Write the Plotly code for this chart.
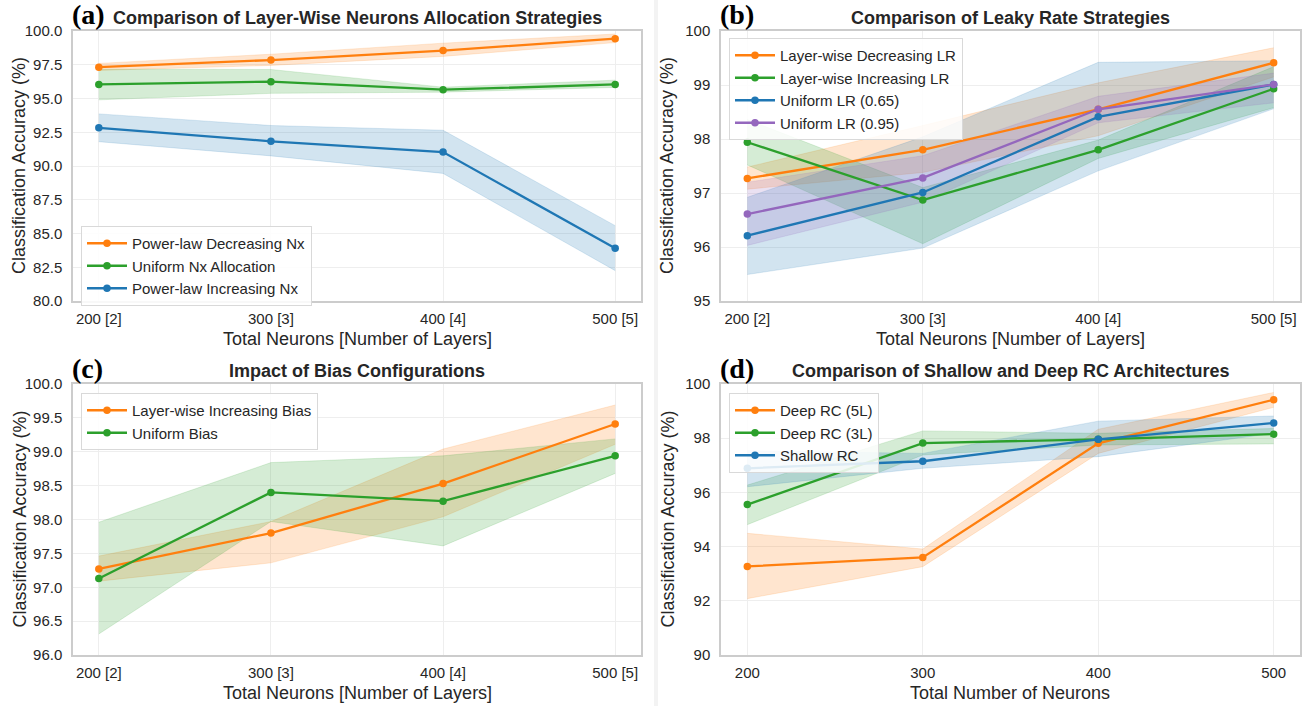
import plotly.graph_objects as go

# ---------------- data ----------------
cat_labels = ["200 [2]", "300 [3]", "400 [4]", "500 [5]"]
neurons = [200, 300, 400, 500]

# (a) Layer-wise neuron allocation
a_names = ["Power-law Decreasing Nx", "Uniform Nx Allocation", "Power-law Increasing Nx"]
a_mean = [[97.32, 97.85, 98.55, 99.43],
          [96.04, 96.25, 95.65, 96.04],
          [92.83, 91.83, 91.03, 83.90]]
a_low = [[97.08, 97.45, 98.12, 99.14],
         [94.90, 95.38, 95.47, 95.82],
         [91.80, 90.75, 89.45, 82.25]]
a_high = [[97.60, 98.28, 99.10, 99.78],
          [97.17, 97.15, 95.84, 96.36],
          [93.86, 93.00, 92.65, 85.58]]

# (b) Leaky rate strategies
b_names = ["Layer-wise Decreasing LR", "Layer-wise Increasing LR", "Uniform LR (0.65)", "Uniform LR (0.95)"]
b_mean = [[97.27, 97.80, 98.55, 99.41],
          [97.94, 96.87, 97.80, 98.93],
          [96.21, 97.01, 98.41, 99.01],
          [96.61, 97.28, 98.55, 99.01]]
b_low = [[97.07, 97.38, 98.06, 99.15],
         [97.52, 96.06, 97.64, 98.58],
         [95.49, 95.98, 97.41, 98.56],
         [96.03, 96.83, 98.30, 98.67]]
b_high = [[97.48, 98.25, 99.04, 99.69],
          [98.36, 97.10, 97.98, 99.34],
          [96.92, 98.04, 99.42, 99.45],
          [97.20, 97.69, 98.79, 99.22]]

# (c) Bias configurations
c_names = ["Layer-wise Increasing Bias", "Uniform Bias"]
c_mean = [[97.27, 97.80, 98.53, 99.41],
          [97.13, 98.40, 98.27, 98.94]]
c_low = [[97.09, 97.36, 98.04, 99.11],
         [96.31, 97.97, 97.61, 98.68]]
c_high = [[97.46, 97.97, 99.04, 99.69],
          [97.96, 98.84, 98.94, 99.19]]

# (d) Shallow vs deep RC
d_names = ["Deep RC (5L)", "Deep RC (3L)", "Shallow RC"]
d_mean = [[93.27, 93.60, 97.81, 99.42],
          [95.55, 97.82, 97.96, 98.15],
          [96.89, 97.15, 97.96, 98.56]]
d_low = [[92.08, 93.26, 97.44, 99.14],
         [94.81, 97.38, 97.75, 97.79],
         [96.21, 96.89, 97.32, 98.18]]
d_high = [[94.49, 93.91, 98.33, 99.69],
          [96.27, 98.27, 98.18, 98.36],
          [97.54, 97.44, 98.63, 98.82]]

# ---------------- style ----------------
W, H = 1312, 706
FONT = "Liberation Sans, Arial, sans-serif"
colors_a = ["#ff7f0e", "#2ca02c", "#1f77b4"]
colors_b = ["#ff7f0e", "#2ca02c", "#1f77b4", "#9467bd"]
colors_c = ["#ff7f0e", "#2ca02c"]
colors_d = ["#ff7f0e", "#2ca02c", "#1f77b4"]


def rgba(hexc, a):
    h = hexc.lstrip("#")
    return "rgba(%d,%d,%d,%s)" % (int(h[0:2], 16), int(h[2:4], 16), int(h[4:6], 16), a)


def px_x(p):
    return p / W


def px_y(p):
    return 1 - p / H


# axes pixel boxes: (left, right, top, bottom)
boxes = {
    1: (73, 641, 31, 301),
    2: (721, 1300, 31, 301),
    3: (73, 641, 384, 655),
    4: (721, 1300, 384, 655),
}

fig = go.Figure()


def add_panel(idx, xs, names, means, lows, highs, cols, legend_name):
    xa = "x" if idx == 1 else "x%d" % idx
    ya = "y" if idx == 1 else "y%d" % idx
    for i in range(len(names)):
        fig.add_trace(go.Scatter(x=xs, y=highs[i], mode="lines", line=dict(width=0.6, color=rgba(cols[i], 0.25)),
                                 xaxis=xa, yaxis=ya, showlegend=False, hoverinfo="skip"))
        fig.add_trace(go.Scatter(x=xs, y=lows[i], mode="lines", line=dict(width=0.6, color=rgba(cols[i], 0.25)),
                                 fill="tonexty", fillcolor=rgba(cols[i], 0.2),
                                 xaxis=xa, yaxis=ya, showlegend=False, hoverinfo="skip"))
    for i in range(len(names)):
        fig.add_trace(go.Scatter(x=xs, y=means[i], mode="lines+markers", name=names[i],
                                 line=dict(color=cols[i], width=2.3),
                                 marker=dict(color=cols[i], size=7.5),
                                 xaxis=xa, yaxis=ya, legend=legend_name,
                                 legendgroup="%s_%d" % (legend_name, i)))


xcat = [0, 1, 2, 3]
add_panel(1, xcat, a_names, a_mean, a_low, a_high, colors_a, "legend")
add_panel(2, xcat, b_names, b_mean, b_low, b_high, colors_b, "legend2")
add_panel(3, xcat, c_names, c_mean, c_low, c_high, colors_c, "legend3")
add_panel(4, neurons, d_names, d_mean, d_low, d_high, colors_d, "legend4")

grid_col = "#eeeeee"
axis_line = "#cccccc"

y_specs = {
    1: dict(range=[80, 100], dtick=2.5, tickformat=".1f"),
    2: dict(range=[95, 100], dtick=1, tickformat="d"),
    3: dict(range=[96, 100], dtick=0.5, tickformat=".1f"),
    4: dict(range=[90, 100], dtick=2, tickformat="d"),
}

layout_axes = {}
for idx, (l, r, t, b) in boxes.items():
    xk = "xaxis" if idx == 1 else "xaxis%d" % idx
    yk = "yaxis" if idx == 1 else "yaxis%d" % idx
    ya = "y" if idx == 1 else "y%d" % idx
    xa = "x" if idx == 1 else "x%d" % idx
    xd = dict(domain=[px_x(l), px_x(r)], anchor=ya, showgrid=True, gridcolor=grid_col, gridwidth=1,
              showline=True, linecolor=axis_line, linewidth=1.5, mirror=True, zeroline=False, automargin=False,
              ticks="", tickfont=dict(family=FONT, size=15, color="#262626"), ticklabelstandoff=3)
    if idx == 4:
        xd.update(range=[185, 515], tickmode="array", tickvals=neurons, ticktext=[str(n) for n in neurons])
    else:
        xd.update(range=[-0.15, 3.15], tickmode="array", tickvals=xcat, ticktext=cat_labels)
    yd = dict(domain=[px_y(b), px_y(t)], anchor=xa, showgrid=True, gridcolor=grid_col, gridwidth=1,
              showline=True, linecolor=axis_line, linewidth=1.5, mirror=True, zeroline=False, automargin=False,
              ticks="", tickfont=dict(family=FONT, size=15, color="#262626"), ticklabelstandoff=6,
              tick0=y_specs[idx]["range"][0], **y_specs[idx])
    layout_axes[xk] = xd
    layout_axes[yk] = yd

legend_common = dict(bgcolor="rgba(255,255,255,0.85)", bordercolor="#d9d9d9", borderwidth=1,
                     font=dict(family=FONT, size=15, color="#262626"), xanchor="left", yanchor="top",
                     traceorder="grouped", tracegroupgap=0, itemwidth=40)

fig.update_layout(
    width=W, height=H,
    margin=dict(l=0, r=0, t=0, b=0, autoexpand=False),
    paper_bgcolor="white", plot_bgcolor="white",
    font=dict(family=FONT, color="#262626"),
    legend=dict(x=px_x(81), y=px_y(226), **legend_common),
    legend2=dict(x=px_x(729), y=px_y(38), **legend_common),
    legend3=dict(x=px_x(81), y=px_y(393), **legend_common),
    legend4=dict(x=px_x(729), y=px_y(393), **legend_common),
    **layout_axes,
)

titles = {
    1: "Comparison of Layer-Wise Neurons Allocation Strategies",
    2: "Comparison of Leaky Rate Strategies",
    3: "Impact of Bias Configurations",
    4: "Comparison of Shallow and Deep RC Architectures",
}
labels = {1: "(a)", 2: "(b)", 3: "(c)", 4: "(d)"}
xtitles = {1: "Total Neurons [Number of Layers]", 2: "Total Neurons [Number of Layers]",
           3: "Total Neurons [Number of Layers]", 4: "Total Number of Neurons"}

annotations = []
for idx, (l, r, t, b) in boxes.items():
    cx = (l + r) / 2
    annotations.append(dict(text="<b>%s</b>" % titles[idx], x=px_x(cx), y=px_y(t - 13), xref="paper", yref="paper",
                            xanchor="center", yanchor="middle", showarrow=False,
                            font=dict(family=FONT, size=18, color="#262626")))
    annotations.append(dict(text="<b>%s</b>" % labels[idx], x=px_x(l - 3), y=px_y(t - 16), xref="paper", yref="paper",
                            xanchor="left", yanchor="middle", showarrow=False,
                            font=dict(family="Liberation Serif, Times New Roman, serif", size=28, color="black")))
    annotations.append(dict(text=xtitles[idx], x=px_x(cx), y=px_y(b + 38), xref="paper", yref="paper",
                            xanchor="center", yanchor="middle", showarrow=False,
                            font=dict(family=FONT, size=18, color="#262626")))
    annotations.append(dict(text="Classification Accuracy (%)", x=px_x(l - 54), y=px_y((t + b) / 2),
                            xref="paper", yref="paper", xanchor="center", yanchor="middle",
                            textangle=-90, showarrow=False,
                            font=dict(family=FONT, size=18, color="#262626")))

fig.update_layout(annotations=annotations,
                  shapes=[dict(type="rect", xref="paper", yref="paper", x0=px_x(654), x1=px_x(658), y0=0, y1=1,
                               fillcolor="#f3f3f3", line=dict(width=0), layer="below")])

fig.write_html("out.html", config={"displayModeBar": False},
               post_script="document.body.style.margin='0';document.body.style.overflow='hidden';")
